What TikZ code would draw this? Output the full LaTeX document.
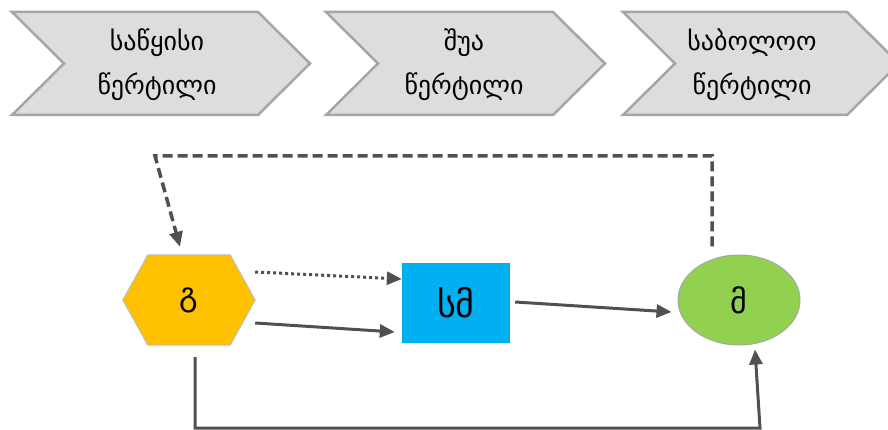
\documentclass[tikz,border=0pt]{standalone}
\usepackage{fontspec}
\setmainfont{DejaVu Sans}
\usetikzlibrary{calc}
\usetikzlibrary{arrows.meta}
\usetikzlibrary{shapes.geometric}
\usetikzlibrary{backgrounds}

\definecolor{chevfill}{RGB}{221,221,221}
\definecolor{chevedge}{RGB}{166,166,166}
\definecolor{hexfill}{RGB}{255,192,0}
\definecolor{boxfill}{RGB}{0,176,240}
\definecolor{ellfill}{RGB}{146,208,80}
\definecolor{linegray}{RGB}{80,80,80}

\tikzset{
 chevron/.style={fill=chevfill, draw=chevedge, line width=2.5pt, line join=miter},
 chevtext/.style={align=center, font=\fontsize{26}{44}\selectfont},
 hexnode/.style={minimum width=132pt, minimum height=90pt, inner sep=0pt, font=\fontsize{32}{36}\selectfont},
 boxnode/.style={rectangle, fill=boxfill, minimum width=108pt, minimum height=80pt, inner sep=0pt, font=\fontsize{36}{40}\selectfont},
 ellnode/.style={ellipse, fill=ellfill, draw=gray!70, line width=1pt, minimum width=122pt, minimum height=90pt, inner sep=0pt, font=\fontsize{32}{36}\selectfont},
 flow/.style={linegray, line width=3pt, -{Triangle[length=15pt,width=13pt]}},
 dashflow/.style={flow, line width=3.5pt, dash pattern=on 10pt off 5pt},
 dotflow/.style={flow, dash pattern=on 3pt off 3pt},
}

\begin{document}
\begin{tikzpicture}[x=1pt, y=-1pt]
\path[use as bounding box, clip] (0,0) rectangle (888,430);
% the three steps on top
\foreach \x/\w in {12/298, 326/279, 623/276} {
 \draw[chevron] (\x,12) -- ++(\w-52,0) -- ++(52,51.5) -- ++(-52,51.5) -- (\x,115) -- ++(52,-51.5) -- cycle;
}
\node[chevtext] (start) at (157,65) {საწყისი\\წერტილი};
\node[chevtext] (middle) at (464,65) {შუა\\წერტილი};
\node[chevtext] (final) at (752,65) {საბოლოო\\წერტილი};

% the three nodes
\node[hexnode] (g) at (189,300) {გ};
\node[boxnode] (sm) at (456,303) {სმ};
\node[ellnode] (m) at (739,300) {მ};
\begin{scope}[on background layer]
 \draw[fill=hexfill, draw=gray!50, line width=1pt] (g.west) -- ($(g.north west)+(25,0)$) -- ($(g.north east)+(-25,0)$)
   -- (g.east) -- ($(g.south east)+(-25,0)$) -- ($(g.south west)+(25,0)$) -- cycle;
\end{scope}

% connectors
\coordinate (top) at (155,156);
\coordinate (low) at (760,428);
\draw[dashflow] ($(m.north)+(-27,-8)$) |- (top) -- ($(g.north)+(-9,-8)$);
\draw[dotflow] ($(g.east)+(0,-28)$) -- ($(sm.west)+(0,-24)$);
\draw[flow] ($(g.east)+(0,23)$) -- ($(sm.west)+(-7,29)$);
\draw[flow] ($(sm.east)+(5,-1)$) -- ($(m.west)+(-6,12)$);
\draw[flow] ($(g.south)+(6,12)$) |- (low) -- ($(m.south)+(16,4)$);
\end{tikzpicture}
\end{document}
